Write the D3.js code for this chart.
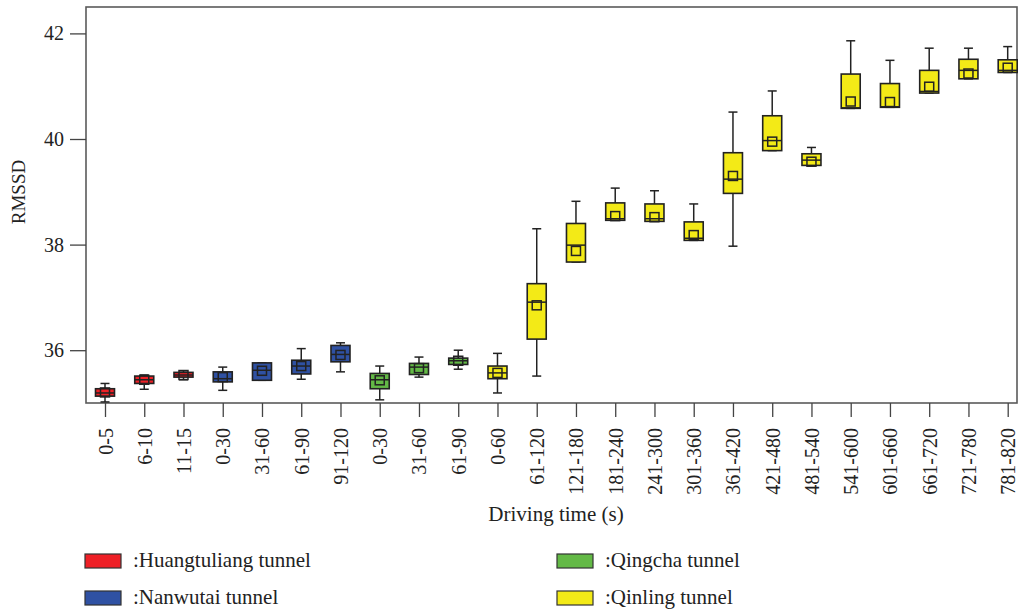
<!DOCTYPE html>
<html>
<head>
<meta charset="utf-8">
<script src="https://cdn.jsdelivr.net/npm/d3@7"></script>
<style>
  body { margin: 0; background: #fff; }
  svg { font-family: 'Liberation Serif', 'Times New Roman', serif; }
</style>
</head>
<body>
<div id="chart"></div>
<script>
// data
var categories = ['0-5','6-10','11-15','0-30','31-60','61-90','91-120','0-30','31-60','61-90',
  '0-60','61-120','121-180','181-240','241-300','301-360','361-420','421-480','481-540',
  '541-600','601-660','661-720','721-780','781-820'];
var groups = [0,0,0,1,1,1,1,2,2,2,3,3,3,3,3,3,3,3,3,3,3,3,3,3];
var whiskerHigh = [35.37,35.53,35.61,35.68,35.76,36.03,36.14,35.70,35.87,36.00,
  35.94,38.30,38.82,39.07,39.02,38.77,40.51,40.91,39.84,41.86,41.49,41.72,41.72,41.75];
var q3 = [35.27,35.51,35.58,35.59,35.76,35.81,36.09,35.56,35.75,35.85,
  35.70,37.26,38.40,38.79,38.77,38.43,39.74,40.44,39.72,41.23,41.05,41.30,41.51,41.50];
var median = [35.19,35.44,35.53,35.46,35.62,35.70,35.92,35.44,35.68,35.80,
  35.57,36.91,37.99,38.49,38.49,38.12,39.24,39.97,39.60,40.59,40.61,40.90,41.30,41.30];
var q1 = [35.13,35.37,35.49,35.40,35.43,35.55,35.78,35.27,35.54,35.73,
  35.46,36.21,37.67,38.46,38.44,38.08,38.97,39.78,39.50,40.58,40.60,40.87,41.14,41.26];
var whiskerLow = [35.02,35.26,35.44,35.24,35.43,35.45,35.59,35.06,35.49,35.64,
  35.19,35.51,37.67,38.46,38.44,38.08,37.97,39.78,39.50,40.58,40.60,40.87,41.14,41.26];
var means = [35.20,35.44,35.53,35.49,35.61,35.70,35.91,35.43,35.66,35.80,
  35.57,36.85,37.88,38.54,38.52,38.18,39.30,39.95,39.57,40.71,40.70,40.99,41.24,41.35];
var yTicks = [36, 38, 40, 42];
var groupNames = [':Huangtuliang tunnel', ':Nanwutai tunnel', ':Qingcha tunnel', ':Qinling tunnel'];
var groupColors = ['#ee2026', '#2f51a3', '#63b946', '#f3ea17'];

(function(){
  'use strict';

  var W = 1018, H = 609;
  var plot = { left: 86, top: 7, right: 1017, bottom: 403 };
  var boxW = 19, capW = 9, markW = 9;
  var ink = '#222';

  var svg = d3.select('#chart').append('svg').attr('width', W).attr('height', H);

  var x = d3.scalePoint().domain(d3.range(categories.length))
    .range([105, 1007.7]);
  var y = d3.scaleLinear().domain([35, 42.5]).range([plot.bottom, plot.top]);

  // frame
  svg.append('rect')
    .attr('x', plot.left).attr('y', plot.top)
    .attr('width', plot.right - plot.left).attr('height', plot.bottom - plot.top)
    .attr('fill', 'none').attr('stroke', '#5a5a5a').attr('stroke-width', 1.6);

  // y axis
  var yAxis = d3.axisLeft(y).tickValues(yTicks).tickSize(16).tickPadding(6);
  var gy = svg.append('g').attr('transform', 'translate(' + plot.left + ',0)').call(yAxis);
  gy.select('.domain').remove();
  gy.selectAll('line').attr('stroke', '#444').attr('stroke-width', 1.3);
  gy.selectAll('text').attr('font-size', '20px').attr('fill', '#222')
    .attr('font-family', "'Liberation Serif', serif");

  // x axis
  var xAxis = d3.axisBottom(x).tickFormat(function(i) { return categories[i]; })
    .tickSize(14).tickPadding(0);
  var gx = svg.append('g').attr('transform', 'translate(0,' + plot.bottom + ')').call(xAxis);
  gx.select('.domain').remove();
  gx.selectAll('line').attr('stroke', '#444').attr('stroke-width', 1.3);
  gx.selectAll('text')
    .attr('font-size', '20px').attr('fill', '#222')
    .attr('font-family', "'Liberation Serif', serif")
    .attr('text-anchor', 'end')
    .attr('dy', null)
    .attr('transform', 'translate(7,25) rotate(-90)')
    .attr('x', 0).attr('y', 0);

  // boxes
  var idx = d3.range(categories.length);
  var g = svg.append('g');
  var item = g.selectAll('g.box').data(idx).enter().append('g').attr('class', 'box');

  item.append('line')
    .attr('x1', function(i) { return x(i); }).attr('x2', function(i) { return x(i); })
    .attr('y1', function(i) { return y(whiskerHigh[i]); })
    .attr('y2', function(i) { return y(whiskerLow[i]); })
    .attr('stroke', ink).attr('stroke-width', 1.5);

  [whiskerHigh, whiskerLow].forEach(function(arr) {
    item.append('line')
      .attr('x1', function(i) { return x(i) - capW / 2; })
      .attr('x2', function(i) { return x(i) + capW / 2; })
      .attr('y1', function(i) { return y(arr[i]); })
      .attr('y2', function(i) { return y(arr[i]); })
      .attr('stroke', ink).attr('stroke-width', 1.5);
  });

  item.append('rect')
    .attr('x', function(i) { return x(i) - boxW / 2; })
    .attr('y', function(i) { return y(q3[i]); })
    .attr('width', boxW)
    .attr('height', function(i) { return Math.max(1, y(q1[i]) - y(q3[i])); })
    .attr('fill', function(i) { return groupColors[groups[i]]; })
    .attr('stroke', ink).attr('stroke-width', 1.6);

  item.append('line')
    .attr('x1', function(i) { return x(i) - boxW / 2; })
    .attr('x2', function(i) { return x(i) + boxW / 2; })
    .attr('y1', function(i) { return y(median[i]); })
    .attr('y2', function(i) { return y(median[i]); })
    .attr('stroke', ink).attr('stroke-width', 1.5);

  item.append('rect')
    .attr('x', function(i) { return x(i) - markW / 2; })
    .attr('y', function(i) { return y(means[i]) - markW / 2; })
    .attr('width', markW).attr('height', markW)
    .attr('fill', 'none').attr('stroke', ink).attr('stroke-width', 1.5);

  // axis titles
  svg.append('text').text('RMSSD')
    .attr('transform', 'translate(25,192) rotate(-90)')
    .attr('text-anchor', 'middle').attr('font-size', '19px').attr('fill', '#222');

  svg.append('text').text('Driving time (s)')
    .attr('x', 556).attr('y', 521)
    .attr('text-anchor', 'middle').attr('font-size', '21px').attr('fill', '#222');

  // legend
  var legPos = [[85, 554], [85, 591], [557, 554], [557, 591]];
  var leg = svg.append('g').selectAll('g').data(groupNames).enter().append('g')
    .attr('transform', function(d, i) { return 'translate(' + legPos[i][0] + ',' + legPos[i][1] + ')'; });
  leg.append('rect').attr('width', 36).attr('height', 14)
    .attr('fill', function(d, i) { return groupColors[i]; })
    .attr('stroke', '#333').attr('stroke-width', 1.2);
  leg.append('text').text(function(d) { return d; })
    .attr('x', 48).attr('y', 13)
    .attr('font-size', '21px').attr('fill', '#222');
})();
</script>
</body>
</html>
